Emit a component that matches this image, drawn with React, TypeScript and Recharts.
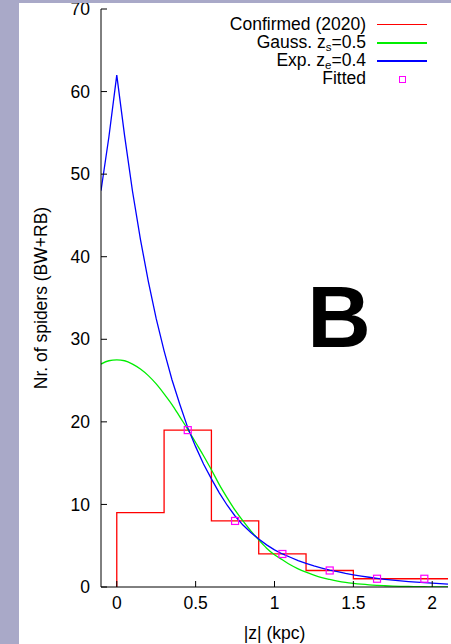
import {
  ComposedChart,
  Line,
  Scatter,
  XAxis,
  YAxis,
  Legend,
  Label,
} from "recharts";

// sample positions (kpc) used for both model curves
const curveZ = [
  -0.1, -0.05, 0, 0.05, 0.1, 0.15, 0.2, 0.25, 0.3, 0.35, 0.4, 0.45, 0.5, 0.55,
  0.6, 0.65, 0.7, 0.75, 0.8, 0.85, 0.9, 0.95, 1.0, 1.05, 1.1, 1.15, 1.2, 1.25,
  1.3, 1.35, 1.4, 1.45, 1.5, 1.55, 1.6, 1.65, 1.7, 1.75, 1.8, 1.85, 1.9, 1.95,
  2.0, 2.05, 2.1,
];
const gaussY = [
  27.0, 27.4, 27.5, 27.4, 27.0, 26.4, 25.6, 24.6, 23.4, 22.1, 20.6, 19.1, 17.5,
  15.9, 14.2, 12.4, 10.8, 9.3, 8.0, 6.8, 5.7, 4.7, 3.9, 3.3, 2.7, 2.2, 1.8,
  1.45, 1.15, 0.92, 0.72, 0.56, 0.44, 0.34, 0.26, 0.2, 0.15, 0.11, 0.08, 0.06,
  0.045, 0.03, 0.02, 0.015, 0.01,
];
const expY = [
  48, 54.5, 62, 54.6, 47.9, 42.1, 37.0, 32.5, 28.6, 25.1, 22.1, 19.3, 17.0,
  14.9, 13.1, 11.4, 9.9, 8.6, 7.5, 6.6, 5.8, 5.1, 4.5, 4.0, 3.6, 3.2, 2.85,
  2.55, 2.3, 2.05, 1.85, 1.65, 1.48, 1.32, 1.18, 1.05, 0.93, 0.83, 0.74, 0.66,
  0.58, 0.52, 0.46, 0.41, 0.36,
];

// confirmed histogram (2020)
const binLeft = [0, 0.3, 0.6, 0.9, 1.2, 1.5];
const binCount = [9, 19, 8, 4, 2, 1];
const histEnd = 2.1;

// fitted values at bin centres
const fitZ = [0.45, 0.75, 1.05, 1.35, 1.65, 1.95];
const fitN = [19, 8, 4, 2, 1, 1];

const xTicks = [0, 0.5, 1, 1.5, 2];
const yTicks = [0, 10, 20, 30, 40, 50, 60, 70];

const FONT = "'Liberation Sans', Arial, Helvetica, sans-serif";
const RED = "#ff0000";
const GREEN = "#00ee00";
const BLUE = "#0000ff";
const MAGENTA = "#ff00ff";

const histData = [
  { x: binLeft[0], y: 0 },
  ...binLeft.map((x, i) => ({ x, y: binCount[i] })),
  { x: histEnd, y: binCount[binCount.length - 1] },
];
const gaussData = curveZ.map((x, i) => ({ x, y: gaussY[i] }));
const expData = curveZ.map((x, i) => ({ x, y: expY[i] }));
const fitData = fitZ.map((x, i) => ({ x, y: fitN[i] }));

const Square = (props: { cx?: number; cy?: number }) => {
  const { cx = 0, cy = 0 } = props;
  return (
    <rect
      x={cx - 3.5}
      y={cy - 3.5}
      width={7}
      height={7}
      fill="none"
      stroke={MAGENTA}
      strokeWidth={1.2}
    />
  );
};

const Sub = ({ children }: { children: string }) => (
  <span style={{ fontSize: 11.5, lineHeight: "10px", position: "relative", top: 3 }}>
    {children}
  </span>
);

const legendRows = [
  { key: "conf", color: RED, label: <>Confirmed (2020)</> },
  { key: "gauss", color: GREEN, label: <>Gauss. z<Sub>s</Sub>=0.5</> },
  { key: "exp", color: BLUE, label: <>Exp. z<Sub>e</Sub>=0.4</> },
  { key: "fit", color: MAGENTA, label: <>Fitted</> },
];

function KeyBox() {
  return (
    <div style={{ fontFamily: FONT, fontSize: 17.5, color: "#000" }}>
      {legendRows.map((r) => (
        <div
          key={r.key}
          style={{ display: "flex", alignItems: "center", height: 18.2 }}
        >
          <div
            style={{ width: 150, textAlign: "right", whiteSpace: "nowrap", lineHeight: "15px" }}
          >
            {r.label}
          </div>
          <div style={{ width: 11 }} />
          <div style={{ width: 50, height: 18, position: "relative" }}>
            {r.key === "fit" ? (
              <div
                style={{
                  position: "absolute",
                  left: 22,
                  top: 6,
                  width: 5,
                  height: 5,
                  border: `1.2px solid ${MAGENTA}`,
                }}
              />
            ) : (
              <div
                style={{
                  position: "absolute",
                  left: 0,
                  top: 9,
                  width: 50,
                  height: 1.4,
                  background: r.color,
                }}
              />
            )}
          </div>
        </div>
      ))}
    </div>
  );
}

export default function App() {
  return (
    <div
      style={{
        position: "fixed",
        left: 0,
        top: 0,
        width: 451,
        height: 644,
        background: "#a9a9c8",
        overflow: "hidden",
      }}
    >
      <div
        style={{
          position: "absolute",
          left: 19,
          top: 3,
          width: 432,
          height: 641,
          background: "#fff",
          fontFamily: FONT,
        }}
      >
        <ComposedChart
          width={432}
          height={641}
          margin={{ top: 6, right: 3, left: 0, bottom: 0 }}
          style={{ fontFamily: FONT }}
        >
          <XAxis
            dataKey="x"
            type="number"
            domain={[-0.1, 2.1]}
            ticks={xTicks}
            interval={0}
            allowDataOverflow
            height={57}
            tickSize={-6}
            tickMargin={16}
            stroke="#000"
            tick={{ fontSize: 17.5, fill: "#000" }}
            tickFormatter={(v) => String(v)}
          >
            <Label
              value="|z| (kpc)"
              position="insideBottom"
              offset={5}
              style={{ fontSize: 17.5, fill: "#000" }}
            />
          </XAxis>
          <XAxis
            xAxisId="top"
            dataKey="x"
            type="number"
            domain={[-0.1, 2.1]}
            ticks={xTicks}
            interval={0}
            allowDataOverflow
            orientation="top"
            height={0}
            mirror
            tick={false}
            tickSize={6}
            stroke="#000"
          />
          <YAxis
            type="number"
            domain={[0, 70]}
            ticks={yTicks}
            interval={0}
            allowDataOverflow
            width={82}
            tickSize={-6}
            tickMargin={17}
            stroke="#000"
            tick={{ fontSize: 17.5, fill: "#000" }}
          >
            <Label
              value="Nr. of spiders (BW+RB)"
              angle={-90}
              position="center"
              dx={-19}
              style={{ fontSize: 17.5, fill: "#000", textAnchor: "middle" }}
            />
          </YAxis>
          <YAxis
            yAxisId="right"
            type="number"
            domain={[0, 70]}
            ticks={yTicks}
            interval={0}
            allowDataOverflow
            orientation="right"
            width={0}
            mirror
            tick={false}
            tickSize={6}
            stroke="#000"
          />
          <Line
            data={histData}
            dataKey="y"
            name="Confirmed (2020)"
            type="stepAfter"
            stroke={RED}
            strokeWidth={1.3}
            dot={false}
            isAnimationActive={false}
          />
          <Line
            data={gaussData}
            dataKey="y"
            name="Gauss"
            type="monotone"
            stroke={GREEN}
            strokeWidth={1.3}
            dot={false}
            isAnimationActive={false}
          />
          <Line
            data={expData}
            dataKey="y"
            name="Exp"
            type="linear"
            stroke={BLUE}
            strokeWidth={1.3}
            dot={false}
            isAnimationActive={false}
          />
          <Scatter
            data={fitData}
            dataKey="y"
            name="Fitted"
            shape={Square}
            isAnimationActive={false}
          />
          <Legend
            layout="horizontal"
            verticalAlign="middle"
            align="center"
            content={() => <KeyBox />}
            wrapperStyle={{ position: "absolute", top: 12, left: 197, width: 215 }}
          />
        </ComposedChart>
        <div
          style={{
            position: "absolute",
            left: 280,
            top: 269.5,
            width: 80,
            textAlign: "center",
            fontSize: 88,
            fontWeight: "bold",
            lineHeight: 1,
            color: "#000",
          }}
        >
          B
        </div>
      </div>
    </div>
  );
}
